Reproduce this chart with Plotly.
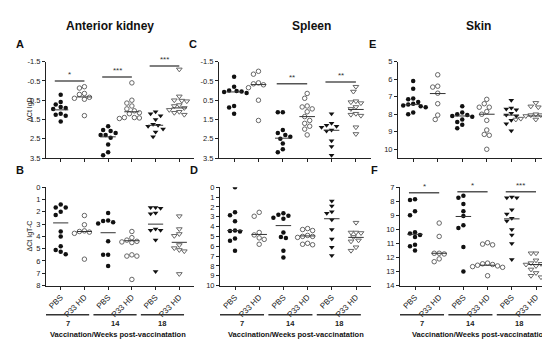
import plotly.graph_objects as go
import numpy as np

W, H = 550, 341
FONT = "Liberation Sans, Arial, sans-serif"

groups = ["PBS", "P33 HD", "PBS", "P33 HD", "PBS", "P33 HD"]
weeks = ["7", "14", "18"]
tissues = ["Anterior kidney", "Spleen", "Skin"]
xlabel = "Vaccination/Weeks post-vaccinatation"

# ---- Panel A: Anterior kidney, ΔCt IgD ----
A_vals = [
    [0.22, 0.59, 0.72, 0.85, 0.9, 0.95, 1.2, 1.25, 1.3, 1.6],
    [-0.2, -0.13, 0.15, 0.2, 0.35, 0.4, 0.45, 1.3],
    [1.85, 2.05, 2.1, 2.2, 2.3, 2.3, 2.45, 2.8, 3.2, 3.35],
    [-0.4, 0.5, 0.65, 0.8, 0.95, 1.05, 1.15, 1.2, 1.4, 1.4, 1.42, 1.45],
    [1.1, 1.2, 1.3, 1.5, 1.75, 1.8, 1.85, 2.0, 2.15, 2.4],
    [-1.1, 0.3, 0.5, 0.52, 0.55, 0.75, 0.8, 0.9, 1.0, 1.1, 1.15, 1.25],
]
A_med = [1.0, 0.33, 2.4, 1.1, 1.8, 0.9]
A_sig = [(0, -0.5, "*"), (2, -0.7, "***"), (4, -1.28, "***")]
A_ticks = [-1.5, -0.5, 0.5, 1.5, 2.5, 3.5]

# ---- Panel B: Anterior kidney, ΔCt IgT-C ----
B_vals = [
    [1.4, 1.65, 1.65, 2.0, 2.25, 3.6, 4.0, 4.8, 5.1, 5.25, 5.45],
    [2.3, 3.05, 3.55, 3.6, 3.65, 3.75, 5.85],
    [2.1, 2.7, 2.75, 2.85, 2.95, 4.4, 5.5, 5.5, 6.4],
    [3.6, 4.1, 4.3, 4.4, 4.45, 4.5, 5.5, 5.6, 5.6, 7.5],
    [1.65, 1.65, 1.7, 2.1, 2.15, 3.4, 3.5, 3.5, 4.3, 6.85],
    [2.35, 3.4, 3.8, 3.95, 4.7, 4.95, 5.1, 5.2, 7.05],
]
B_med = [2.9, 3.6, 3.7, 4.35, 3.0, 4.48]
B_sig = []
B_ticks = [0, 1, 2, 3, 4, 5, 6, 7, 8]

# ---- Panel C: Spleen, ΔCt IgD ----
C_vals = [
    [-0.72, -0.2, 0.0, 0.02, 0.05, 0.08, 0.12, 0.8, 0.88, 1.2],
    [-1.0, -0.85, -0.4, -0.35, -0.3, -0.15, 0.5, 1.55],
    [1.12, 1.12, 2.05, 2.2, 2.3, 2.4, 2.5, 2.75, 3.05, 3.2],
    [0.15, 0.4, 0.8, 0.85, 0.95, 1.1, 1.35, 1.55, 1.7, 1.85, 2.0, 2.3],
    [1.2, 1.7, 1.8, 1.85, 1.9, 2.05, 2.1, 2.6, 2.9, 3.35],
    [-0.2, 0.05, 0.55, 0.6, 0.65, 0.85, 0.95, 1.2, 1.25, 1.3, 1.9, 2.25],
]
C_med = [0.07, -0.31, 2.47, 1.35, 2.06, 0.98]
C_sig = [(2, -0.35, "**"), (4, -0.45, "**")]
C_ticks = [-1.5, -0.5, 0.5, 1.5, 2.5, 3.5]

# ---- Panel D: Spleen, ΔCt IgT-C ----
D_vals = [
    [0.0, 2.55, 2.85, 3.45, 4.4, 4.45, 4.5, 5.2, 5.45, 6.45],
    [2.55, 2.95, 4.6, 4.85, 5.15, 5.3, 5.8],
    [2.65, 2.8, 2.9, 3.1, 3.2, 4.6, 5.05, 5.15, 6.45, 7.15],
    [4.2, 4.3, 4.4, 4.9, 5.0, 5.0, 5.1, 5.7, 5.8, 5.85],
    [1.4, 1.9, 2.5, 2.65, 3.3, 4.3, 5.25, 6.1, 6.95],
    [3.6, 4.6, 4.6, 4.65, 5.05, 5.4, 5.5, 6.1, 6.45],
]
D_med = [4.4, 4.8, 3.9, 4.95, 3.2, 5.1]
D_sig = []
D_ticks = [0, 1, 2, 3, 4, 5, 6, 7, 8, 9, 10]

# ---- Panel E: Skin, ΔCt IgD ----
E_vals = [
    [6.1, 6.55, 7.1, 7.15, 7.3, 7.4, 7.45, 7.5, 7.55, 7.6, 7.9, 8.0],
    [5.75, 6.4, 6.45, 6.8, 7.4, 8.05, 8.3],
    [7.55, 7.9, 8.0, 8.05, 8.1, 8.15, 8.3, 8.45, 8.6, 8.8],
    [7.15, 7.4, 7.6, 7.6, 7.85, 8.0, 8.35, 8.9, 9.15, 9.2, 10.0],
    [7.2, 7.65, 7.7, 7.75, 7.95, 8.05, 8.1, 8.35, 8.55, 8.95],
    [7.35, 7.55, 7.6, 8.0, 8.05, 8.05, 8.1, 8.15, 8.25, 8.25, 8.3, 8.3],
]
E_med = [7.45, 6.82, 8.1, 8.0, 8.05, 8.1]
E_sig = []
E_ticks = [5, 6, 7, 8, 9, 10]

# ---- Panel F: Skin, ΔCt IgT-C ----
F_vals = [
    [7.85, 7.9, 8.7, 9.0, 10.2, 10.3, 10.4, 10.55, 11.1, 11.2, 11.5],
    [9.55, 10.5, 11.7, 11.7, 11.75, 12.1, 12.3],
    [7.6, 7.75, 8.2, 8.7, 9.05, 9.7, 9.9, 11.25, 13.0],
    [10.95, 11.05, 11.1, 12.4, 12.45, 12.5, 12.55, 12.6, 12.65, 12.7, 13.3],
    [7.7, 7.75, 7.75, 8.6, 8.9, 9.2, 9.4, 10.0, 10.4, 11.0, 12.15],
    [11.7, 11.7, 12.2, 12.4, 12.45, 12.5, 12.6, 12.85, 13.1, 13.3, 13.4],
]
F_med = [10.35, 11.7, 9.08, 12.55, 9.25, 12.5]
F_sig = [(0, 7.39, "*"), (2, 7.32, "*"), (4, 7.32, "***")]
F_ticks = [7, 8, 9, 10, 11, 12, 13, 14]

symbols = ["circle", "circle-open", "circle", "circle-open",
           "triangle-down", "triangle-down-open"]

XR = [-0.62, 5.62]

panels = [
    dict(letter="A", vals=A_vals, med=A_med, sig=A_sig, ticks=A_ticks, yr=[3.5, -1.5],
         xd=(38, 186), yd=(51, 150), bottom=False, ytitle="ΔCt IgD"),
    dict(letter="C", vals=C_vals, med=C_med, sig=C_sig, ticks=C_ticks, yr=[3.5, -1.5],
         xd=(211, 363), yd=(51, 150), bottom=False, ytitle=None),
    dict(letter="E", vals=E_vals, med=E_med, sig=E_sig, ticks=E_ticks, yr=[10.5, 5],
         xd=(390, 543), yd=(51, 150), bottom=False, ytitle=None),
    dict(letter="B", vals=B_vals, med=B_med, sig=B_sig, ticks=B_ticks, yr=[8, 0],
         xd=(38, 186), yd=(180, 281), bottom=True, ytitle="ΔCt IgT-C"),
    dict(letter="D", vals=D_vals, med=D_med, sig=D_sig, ticks=D_ticks, yr=[10, 0],
         xd=(212, 363), yd=(180, 281), bottom=True, ytitle=None),
    dict(letter="F", vals=F_vals, med=F_med, sig=F_sig, ticks=F_ticks, yr=[14, 7],
         xd=(392, 543), yd=(180, 281), bottom=True, ytitle=None),
]
xlabel_cx = [110, 288, 472]


def swarm(vals, px_per_unit, px_per_cat, d=5.0):
    order = np.argsort(vals)
    placed = []
    offs = [0.0] * len(vals)
    for i in order:
        y = vals[i] * px_per_unit
        best = None
        for k in range(0, 14):
            for sgn in ([1] if k == 0 else [-1, 1]):
                x = sgn * k * d / 2.0
                ok = all((x - px) ** 2 + (y - py) ** 2 >= d * d for px, py in placed)
                if ok:
                    best = x
                    break
            if best is not None:
                break
        placed.append((best, y))
        offs[i] = best / px_per_cat
    return offs


fig = go.Figure()
layout = dict(width=W, height=H, margin=dict(l=0, r=0, t=0, b=0),
              paper_bgcolor="white", plot_bgcolor="white", showlegend=False,
              font=dict(family=FONT, color="#222"))
annotations = []
shapes = []
bottom_i = 0

for n, p in enumerate(panels):
    idx = "" if n == 0 else str(n + 1)
    xa, ya = "x" + idx, "y" + idx
    x0, x1 = p["xd"]
    y0, y1 = p["yd"]
    ppu = (y1 - y0) / abs(p["yr"][0] - p["yr"][1])
    ppc = (x1 - x0) / (XR[1] - XR[0])
    for c, vals in enumerate(p["vals"]):
        offs = swarm(vals, ppu, ppc)
        xs = [c + o for o in offs]
        open_ = "open" in symbols[c]
        tri = "triangle" in symbols[c]
        fig.add_trace(go.Scatter(
            x=xs, y=vals, mode="markers", xaxis=xa, yaxis=ya, hoverinfo="skip",
            marker=dict(symbol=symbols[c], size=(5 if tri else 4.5),
                        color="#666" if open_ else "#111",
                        line=dict(width=1 if open_ else 0, color="#666" if open_ else "#111"))))
        fig.add_trace(go.Scatter(
            x=[c - 0.32, c + 0.32], y=[p["med"][c]] * 2, mode="lines",
            xaxis=xa, yaxis=ya, hoverinfo="skip",
            line=dict(color="#333", width=1)))
    for (c, lvl, lab) in p["sig"]:
        fig.add_trace(go.Scatter(
            x=[c - 0.25, c + 1.0], y=[lvl, lvl], mode="lines", xaxis=xa, yaxis=ya,
            hoverinfo="skip", line=dict(color="#555", width=1.5)))
        annotations.append(dict(x=c + 0.375, y=lvl, xref=xa, yref=ya, text=lab,
                                showarrow=False, yanchor="bottom", yshift=0,
                                font=dict(size=8, color="#333")))
    xkey = "xaxis" + idx
    ykey = "yaxis" + idx
    layout[xkey] = dict(domain=[x0 / W, x1 / W], anchor=ya, range=XR,
                        tickmode="array", tickvals=list(range(6)),
                        ticktext=groups if p["bottom"] else [""] * 6,
                        showticklabels=p["bottom"], tickangle=-45,
                        ticks="outside", ticklen=3, tickwidth=1, tickcolor="#222",
                        showline=True, linecolor="#222", linewidth=1,
                        showgrid=False, zeroline=False, fixedrange=True,
                        tickfont=dict(size=8, family=FONT, color="#222"))
    layout[ykey] = dict(domain=[1 - y1 / H, 1 - y0 / H], anchor=xa, range=p["yr"],
                        tickmode="array", tickvals=p["ticks"],
                        ticktext=[("%g" % t) for t in p["ticks"]],
                        ticks="outside", ticklen=3, tickwidth=1, tickcolor="#222",
                        showline=True, linecolor="#222", linewidth=1,
                        showgrid=False, zeroline=False, fixedrange=True,
                        tickfont=dict(size=7.5, family=FONT, color="#222"))
    annotations.append(dict(x=(x0 - 26) / W, y=1 - (y0 - 18) / H, xref="paper", yref="paper",
                            text="<b>%s</b>" % p["letter"], showarrow=False,
                            xanchor="center", yanchor="middle",
                            font=dict(size=11, color="#111")))
    if p["ytitle"]:
        annotations.append(dict(x=22 / W, y=1 - ((y0 + y1) / 2) / H, xref="paper", yref="paper",
                                text=p["ytitle"], showarrow=False, textangle=-90,
                                xanchor="center", yanchor="middle",
                                font=dict(size=7, color="#222")))
    if p["bottom"]:
        for g in range(3):
            a, b = 2 * g - 0.62, 2 * g + 1.2
            shapes.append(dict(type="line", xref=xa, yref="paper", x0=a, x1=b,
                               y0=1 - 311 / H, y1=1 - 311 / H,
                               line=dict(color="#333", width=1.5)))
            annotations.append(dict(x=(a + b) / 2, y=1 - 320 / H, xref=xa, yref="paper",
                                    text="<b>%s</b>" % weeks[g], showarrow=False,
                                    xanchor="center", yanchor="middle",
                                    font=dict(size=7.5, color="#222")))
        annotations.append(dict(x=xlabel_cx[bottom_i] / W, y=1 - 331 / H, xref="paper",
                                yref="paper", text="<b>%s</b>" % xlabel, showarrow=False,
                                xanchor="center", yanchor="middle",
                                font=dict(size=7.5, color="#111")))
        bottom_i += 1

title_x = [102, 303, 470]
for t, tx in zip(tissues, title_x):
    annotations.append(dict(x=tx / W, y=1 - 14 / H, xref="paper", yref="paper",
                            text="<b>%s</b>" % t, showarrow=False,
                            xanchor="center", yanchor="middle",
                            font=dict(size=12, color="#111")))

layout["annotations"] = annotations
layout["shapes"] = shapes
fig.update_layout(**layout)
fig.write_html("out.html")
